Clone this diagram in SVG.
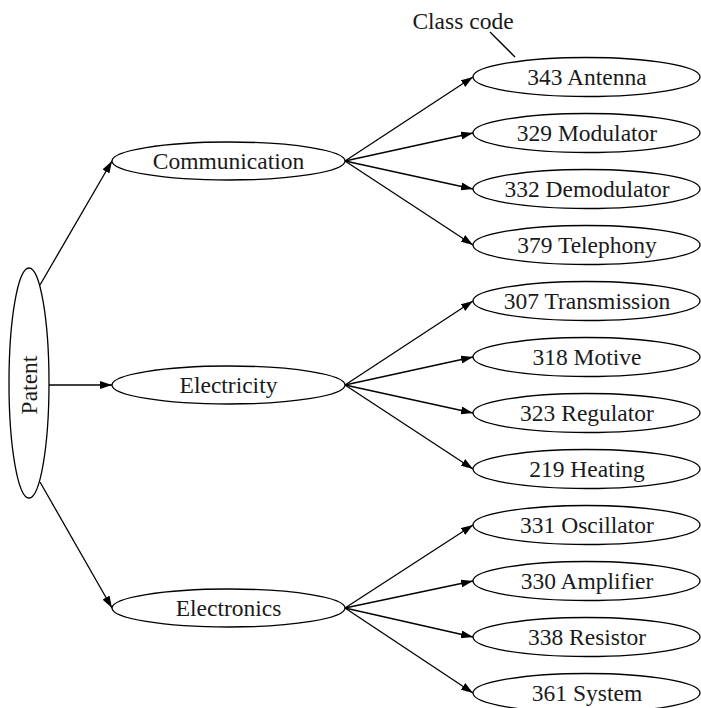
<svg xmlns="http://www.w3.org/2000/svg" width="701" height="708" viewBox="0 0 701 708">
  <style>
    .node ellipse { fill: #ffffff; stroke: #000000; stroke-width: 1.3; }
    text { font-family: "Liberation Serif", "Times New Roman", serif; font-size: 23.5px; fill: #1a1a1a; text-anchor: middle; }
    .edge { stroke: #000000; stroke-width: 1.3; fill: none; marker-end: url(#arrow); }
    .note { stroke: #000000; stroke-width: 1.3; fill: none; }
  </style>
  <defs>
    <marker id="arrow" markerUnits="userSpaceOnUse" markerWidth="12" markerHeight="8" refX="12" refY="4" orient="auto">
      <path d="M0,0 L12,4 L0,8 z" fill="#000000"/>
    </marker>
  </defs>
  <rect width="701" height="708" fill="#ffffff"/>

  <!-- connectors -->
  <g id="edges">
    <!-- root to categories -->
    <line class="edge" x1="40" y1="285" x2="112" y2="161"/>
    <line class="edge" x1="49" y1="385" x2="112" y2="385"/>
    <line class="edge" x1="40" y1="482" x2="112" y2="608"/>
    <!-- Communication -->
    <line class="edge" x1="345" y1="161" x2="473" y2="77"/>
    <line class="edge" x1="345" y1="161" x2="473" y2="133"/>
    <line class="edge" x1="345" y1="161" x2="473" y2="189"/>
    <line class="edge" x1="345" y1="161" x2="473" y2="245"/>
    <!-- Electricity -->
    <line class="edge" x1="345" y1="385" x2="473" y2="301"/>
    <line class="edge" x1="345" y1="385" x2="473" y2="357"/>
    <line class="edge" x1="345" y1="385" x2="473" y2="413"/>
    <line class="edge" x1="345" y1="385" x2="473" y2="469"/>
    <!-- Electronics -->
    <line class="edge" x1="345" y1="608" x2="473" y2="525"/>
    <line class="edge" x1="345" y1="608" x2="473" y2="581"/>
    <line class="edge" x1="345" y1="608" x2="473" y2="637"/>
    <line class="edge" x1="345" y1="608" x2="473" y2="693"/>
    <!-- label pointer -->
    <line class="note" x1="490" y1="32" x2="515" y2="57"/>
  </g>

  <text id="class-code-label" x="463" y="29">Class code</text>

  <!-- root -->
  <g id="patent" class="node">
    <ellipse cx="29" cy="383" rx="20" ry="115"/>
    <text transform="translate(37,385) rotate(-90)">Patent</text>
  </g>

  <!-- categories -->
  <g id="communication" class="node">
    <ellipse cx="228.5" cy="161" rx="116.5" ry="19"/>
    <text x="228.5" y="169">Communication</text>
  </g>
  <g id="electricity" class="node">
    <ellipse cx="228.5" cy="385" rx="116.5" ry="19"/>
    <text x="228.5" y="393">Electricity</text>
  </g>
  <g id="electronics" class="node">
    <ellipse cx="228.5" cy="608" rx="116.5" ry="19"/>
    <text x="228.5" y="616">Electronics</text>
  </g>

  <!-- class codes -->
  <g id="c343" class="node">
    <ellipse cx="586.5" cy="77" rx="113.5" ry="19.5"/>
    <text x="587" y="85">343 Antenna</text>
  </g>
  <g id="c329" class="node">
    <ellipse cx="586.5" cy="133" rx="113.5" ry="19.5"/>
    <text x="587" y="141">329 Modulator</text>
  </g>
  <g id="c332" class="node">
    <ellipse cx="586.5" cy="189" rx="113.5" ry="19.5"/>
    <text x="587" y="197">332 Demodulator</text>
  </g>
  <g id="c379" class="node">
    <ellipse cx="586.5" cy="245" rx="113.5" ry="19.5"/>
    <text x="587" y="253">379 Telephony</text>
  </g>
  <g id="c307" class="node">
    <ellipse cx="586.5" cy="301" rx="113.5" ry="19.5"/>
    <text x="587" y="309">307 Transmission</text>
  </g>
  <g id="c318" class="node">
    <ellipse cx="586.5" cy="357" rx="113.5" ry="19.5"/>
    <text x="587" y="365">318 Motive</text>
  </g>
  <g id="c323" class="node">
    <ellipse cx="586.5" cy="413" rx="113.5" ry="19.5"/>
    <text x="587" y="421">323 Regulator</text>
  </g>
  <g id="c219" class="node">
    <ellipse cx="586.5" cy="469" rx="113.5" ry="19.5"/>
    <text x="587" y="477">219 Heating</text>
  </g>
  <g id="c331" class="node">
    <ellipse cx="586.5" cy="525" rx="113.5" ry="19.5"/>
    <text x="587" y="533">331 Oscillator</text>
  </g>
  <g id="c330" class="node">
    <ellipse cx="586.5" cy="581" rx="113.5" ry="19.5"/>
    <text x="587" y="589">330 Amplifier</text>
  </g>
  <g id="c338" class="node">
    <ellipse cx="586.5" cy="637" rx="113.5" ry="19.5"/>
    <text x="587" y="645">338 Resistor</text>
  </g>
  <g id="c361" class="node">
    <ellipse cx="586.5" cy="693" rx="113.5" ry="19.5"/>
    <text x="587" y="701">361 System</text>
  </g>
</svg>
